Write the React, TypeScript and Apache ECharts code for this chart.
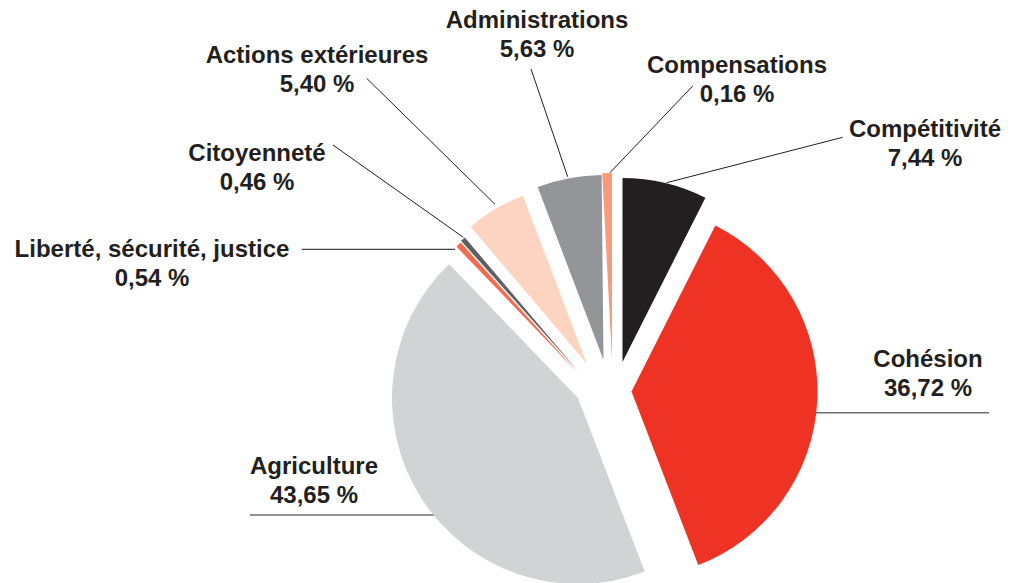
import React, { useEffect, useRef } from 'react';
import * as echarts from 'echarts';

// ---- data ----
const categories = [
  'Compétitivité',
  'Cohésion',
  'Agriculture',
  'Liberté, sécurité, justice',
  'Citoyenneté',
  'Actions extérieures',
  'Administrations',
  'Compensations',
];
const shares = [7.44, 36.72, 43.65, 0.54, 0.46, 5.4, 5.63, 0.16];

// ---- styles ----
const sliceColors = [
  '#231f20',
  '#ee3224',
  '#d1d3d4',
  '#f26c4f',
  '#5f6062',
  '#fdd4c2',
  '#939598',
  '#f79b7b',
];

// ---- layout (exploded slices: each slice has its own apex) ----
const sliceCenters: [number, number][] = [
  [622.5, 362],
  [631.5, 391.5],
  [578, 398],
  [577, 372],
  [578, 371],
  [587, 364],
  [603.5, 360],
  [612, 360],
];
const sliceRadii = [184, 186, 186, 174, 175, 180, 185, 187];
const labelCenters: [number, number][] = [
  [925, 143],
  [928, 373],
  [314, 480],
  [152, 263],
  [257, 167],
  [317, 68.5],
  [537, 34],
  [737, 79],
];
const leaderLines: [number, number][][] = [
  [[666.7, 182.7], [842.7, 137.3], [842.7, 137.3]],
  [[815, 412.7], [989, 412.7], [989, 412.7]],
  [[442, 515], [250, 515], [250, 515]],
  [[455, 249.3], [301.7, 249.3], [301.7, 249.3]],
  [[463.3, 237.3], [333, 145], [333, 145]],
  [[495, 204.3], [366.7, 78.3], [366.7, 78.3]],
  [[567.7, 176.7], [531, 69], [531, 69]],
  [[610, 172.7], [692.7, 86], [692.7, 86]],
];
const leaderColors = ['#231f20', '#6d6e70', '#6d6e70', '#414042', '#231f20', '#231f20', '#231f20', '#231f20'];
const leaderWidths = [1, 1.5, 1.5, 1.3, 1, 1, 1, 1];

const fmt = (v: number) => v.toFixed(2).replace('.', ',') + ' %';

export default function App() {
  const ref = useRef<HTMLDivElement>(null);
  useEffect(() => {
    document.body.style.margin = '0';
    const chart = echarts.init(ref.current as HTMLDivElement, null, { renderer: 'svg' });
    const series = categories.map((cat, i) => ({
      type: 'pie',
      name: cat,
      center: sliceCenters[i],
      radius: sliceRadii[i],
      startAngle: 90,
      clockwise: true,
      minAngle: i === 7 ? 3 : 0,
      avoidLabelOverlap: false,
      silent: true,
      emphasis: { disabled: true },
      label: { show: false },
      labelLine: { show: false },
      data: categories.map((name, j) =>
        j === i
          ? {
              name,
              value: shares[j],
              itemStyle: { color: sliceColors[j] },
              label: {
                show: true,
                position: 'outside',
                formatter: (p: any) => `${p.name}\n${fmt(p.value)}`,
                fontSize: 24,
                fontWeight: 'bold',
                fontFamily: '"Liberation Sans", Arial, sans-serif',
                color: '#231f20',
                lineHeight: 29,
                align: 'center',
              },
              labelLine: {
                show: true,
                smooth: false,
                lineStyle: { color: leaderColors[j], width: leaderWidths[j] },
              },
            }
          : {
              name,
              value: shares[j],
              itemStyle: { color: 'rgba(0,0,0,0)' },
              label: { show: false },
              labelLine: { show: false },
            }
      ),
      labelLayout: (params: any) =>
        params.dataIndex === i
          ? {
              x: labelCenters[i][0],
              y: labelCenters[i][1],
              align: 'center',
              verticalAlign: 'middle',
              labelLinePoints: leaderLines[i],
            }
          : {},
    }));
    chart.setOption({
      animation: false,
      backgroundColor: '#ffffff',
      series,
    } as any);
    return () => chart.dispose();
  }, []);
  return <div ref={ref} style={{ width: 1013, height: 583 }} />;
}
